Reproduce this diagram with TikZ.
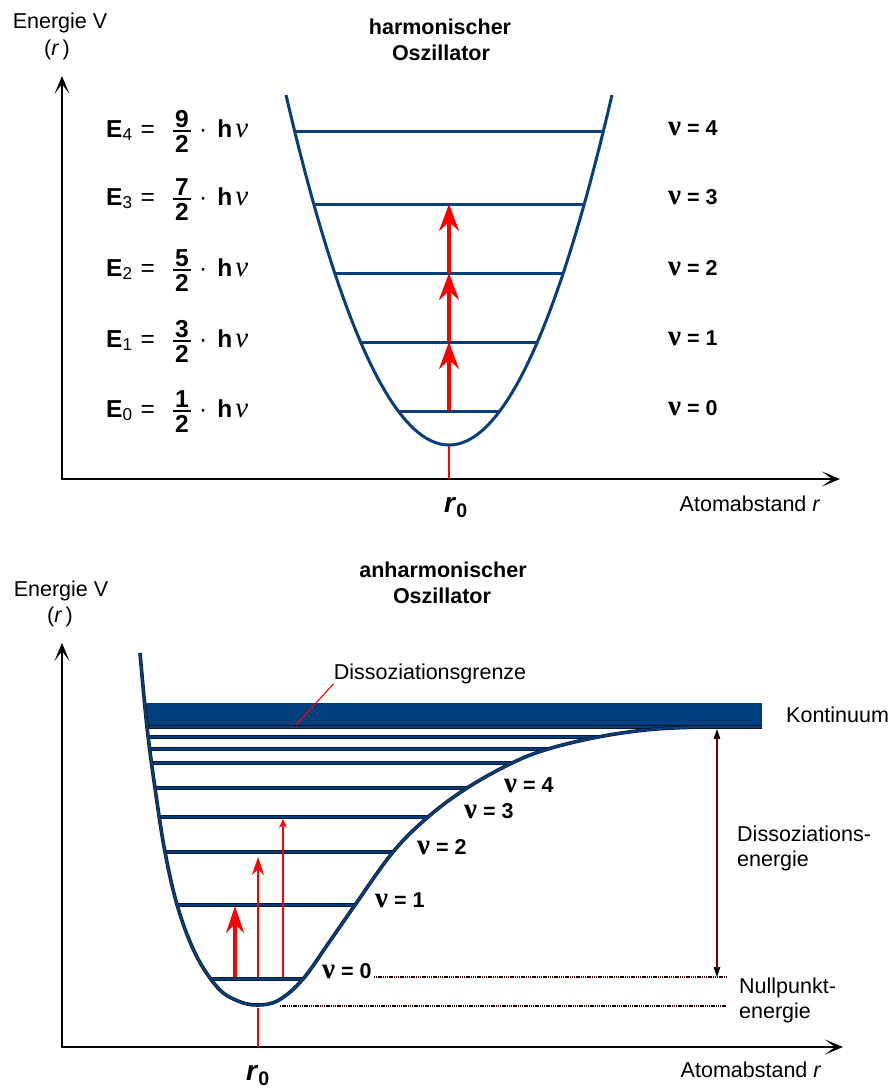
\documentclass[tikz,border=0pt]{standalone}
\usepackage{fontspec}
\usepackage{graphicx}
\setmainfont{Liberation Sans}
\newfontfamily\nufont{Liberation Serif}
\usetikzlibrary{arrows.meta}
\definecolor{lineblue}{RGB}{8,62,124}
\definecolor{bandblue}{RGB}{0,63,125}
\definecolor{darkred}{RGB}{110,0,0}
\definecolor{outline}{RGB}{10,25,45}
\newcommand{\bnu}{{\nufont\bfseries\fontsize{29}{30}\selectfont ν}}
\newcommand{\inu}{{\nufont\itshape\fontsize{29}{30}\selectfont ν}}
\begin{document}
\begin{tikzpicture}[x=1pt,y=-1pt,
  txt/.style={font=\fontsize{21.5}{25}\selectfont, inner sep=0pt, anchor=base},
  btxt/.style={font=\fontsize{21.5}{25}\selectfont\bfseries, inner sep=0pt, anchor=base},
  ftxt/.style={font=\fontsize{24.5}{28}\selectfont, inner sep=0pt, anchor=base west},
  fdig/.style={font=\fontsize{24.5}{28}\selectfont\bfseries, inner sep=0pt, anchor=center},
  rtxt/.style={font=\fontsize{28}{32}\selectfont\bfseries, inner sep=0pt, anchor=base},
  axis/.style={line width=2.5pt, -{Stealth[length=18pt,width=15pt,inset=10pt]}},
  hcurve/.style={draw=lineblue, line width=3pt},
  alevel/.style={draw=lineblue, line width=2.2pt, preaction={draw=outline, line width=3.6pt}},
  bigred/.style={draw=red, line width=3.2pt, -{Stealth[length=27pt,width=20pt,inset=9pt]}},
  bigredb/.style={draw=red, line width=4pt, -{Stealth[length=27pt,width=18pt,inset=9pt]}},
  midred/.style={draw=red, line width=2.5pt, -{Stealth[length=18pt,width=12pt,inset=6pt]}},
  thinred/.style={draw=red, line width=1.3pt, -{Stealth[length=9pt,width=8pt,inset=3pt]}},
  redline/.style={draw=red, line width=2.8pt},
  dissarrow/.style={draw=darkred, line width=2.6pt,
     {Stealth[black,length=20pt,width=14pt,inset=13pt]}-{Stealth[black,length=20pt,width=14pt,inset=13pt]}},
  dotline/.style={draw=black!85!red, line width=2pt, dash pattern=on 1.3pt off 0.9pt},
  leader/.style={draw=red, line width=1.1pt}
]
\useasboundingbox (0,0) rectangle (893,1088);

% ================= top panel =================
\coordinate (O1) at (62,480.2);
\coordinate (Y1) at (62,76);
\coordinate (X1) at (840,479);
\coordinate (O1x) at (60.8,479);
\draw[axis] (O1) -- (Y1);
\draw[axis] (O1x) -- (X1);

\node[txt] (en1) at (60,28) {Energie V};
\node[txt] (r1) at (57,55) {(\textit{r}\,)};
\node[btxt] (t1a) at (440,34) {harmonischer};
\node[btxt] (t1b) at (441,60) {Oszillator};
\node[txt] (ab1) at (750,511) {Atomabstand \textit{r}};
\node[rtxt] (r01) at (456,512) {\textit{r}\textsubscript{0}};

% parabola and levels
\draw[hcurve] plot[domain=286:612, samples=90] (\x, {445-350*((\x-449)/163)^2});
\foreach \yy in {131,204,273,342,411}
  \draw[hcurve] ({449-163*sqrt((445-\yy)/350)},\yy) -- ({449+163*sqrt((445-\yy)/350)},\yy);

% red transitions
\coordinate (h0) at (449,411);
\coordinate (h1) at (449,342);
\coordinate (h2) at (449,273);
\coordinate (h3) at (449,204);
\coordinate (hv) at (449,446);
\coordinate (hr) at (449,479);
\draw[redline] (hv) -- (hr);
\draw[bigred] (h0) -- (h1);
\draw[bigred] (h1) -- (h2);
\draw[bigred] (h2) -- (h3);

% energy formulas
\foreach \i/\n/\yy in {4/9/131,3/7/199,2/5/270,1/3/341,0/1/411}{
  \node[ftxt] (E\i) at (106,\yy+6) {\textbf{E}\textsubscript{\i}\hspace{8pt}=};
  \node[fdig] (N\i) at (182,\yy-12) {\n};
  \node[fdig] (D\i) at (182,\yy+13) {2};
  \draw[line width=1.1pt] (173,\yy) -- (191,\yy);
  \node[ftxt] (H\i) at (199,\yy+6) {·\hspace{10pt}\textbf{h}\hspace{3pt}\inu};
}
% quantum numbers
\foreach \k/\yy in {4/135,3/204,2/275,1/345,0/415}
  \node[btxt, anchor=base west] (nt\k) at (668,\yy) {\bnu{} = \k};

% ================= bottom panel =================
\coordinate (O2) at (62,1048.2);
\coordinate (Y2) at (62,643);
\coordinate (X2) at (843,1047);
\coordinate (O2x) at (60.8,1047);
\draw[axis] (O2) -- (Y2);
\draw[axis] (O2x) -- (X2);

\node[txt] (en2) at (61,596) {Energie V};
\node[txt] (r2) at (60,622) {(\textit{r}\,)};
\node[btxt] (t2a) at (443,577) {anharmonischer};
\node[btxt] (t2b) at (442,603) {Oszillator};
\node[txt] (dg) at (430,679) {Dissoziationsgrenze};
\node[txt, anchor=base west] (kont) at (786,722) {Kontinuum};
\node[txt, anchor=base west] (de1) at (737,841) {Dissoziations-};
\node[txt, anchor=base west] (de2) at (737,866) {energie};
\node[txt, anchor=base west] (np1) at (739,993) {Nullpunkt-};
\node[txt, anchor=base west] (np2) at (739,1018) {energie};
\node[txt] (ab2) at (751,1077) {Atomabstand \textit{r}};
\node[rtxt] (r02) at (258,1080) {\textit{r}\textsubscript{0}};

% continuum band
\fill[bandblue] (146,703) rectangle (762,727);
\draw[alevel] (147,727) -- (762,727);
% vibrational levels
\foreach \l/\r/\yy in {148/598/737, 150/548/749, 152/512/763, 155/467/788, 158/428/817, 165/393/852, 177/355/905, 212/303/979}
  \draw[alevel] (\l,\yy) -- (\r,\yy);
% Morse-like potential
\draw[alevel] plot[smooth, tension=0.6] coordinates {(140,653) (147,727) (155,788) (165,852) (178,908) (196,955) (218,988) (238,1001) (258,1005) (279,1000) (303,979) (330,941) (355,905) (393,852) (428,817) (467,788) (512,763) (548,749) (598,737) (650,729.5) (700,727)};

% leader to the dissociation limit
\coordinate (dgend) at (296,725);
\draw[leader] (dg.south west) -- (dgend);

% quantum number labels
\node[btxt, anchor=base west] (nb0) at (322,978) {\bnu{} = 0};
\node[btxt, anchor=base west] (nb1) at (375,907) {\bnu{} = 1};
\node[btxt, anchor=base west] (nb2) at (417,854) {\bnu{} = 2};
\node[btxt, anchor=base west] (nb3) at (464,818) {\bnu{} = 3};
\node[btxt, anchor=base west] (nb4) at (504,792) {\bnu{} = 4};

% dotted lines
\coordinate (dz1) at (726,977);
\coordinate (dz2s) at (280,1006);
\coordinate (dz2) at (726,1006);
\draw[dotline] ([xshift=2pt]nb0.east |- dz1) -- (dz1);
\draw[dotline] (dz2s) -- (dz2);

% dissociation energy arrow
\coordinate (dtop) at (717,729);
\coordinate (dbot) at (717,977);
\draw[dissarrow] (dtop) -- (dbot);

% red transitions (bottom)
\coordinate (bv) at (258,1008);
\coordinate (br) at (258,1047);
\draw[red, line width=2pt] (bv) -- (br);
\coordinate (a0) at (235,977);
\coordinate (a1) at (235,906);
\coordinate (b0) at (258,977);
\coordinate (b1) at (258,857);
\coordinate (c0) at (283,977);
\coordinate (c1) at (283,819);
\draw[bigredb] (a0) -- (a1);
\draw[midred] (b0) -- (b1);
\draw[thinred] (c0) -- (c1);
\end{tikzpicture}
\end{document}
